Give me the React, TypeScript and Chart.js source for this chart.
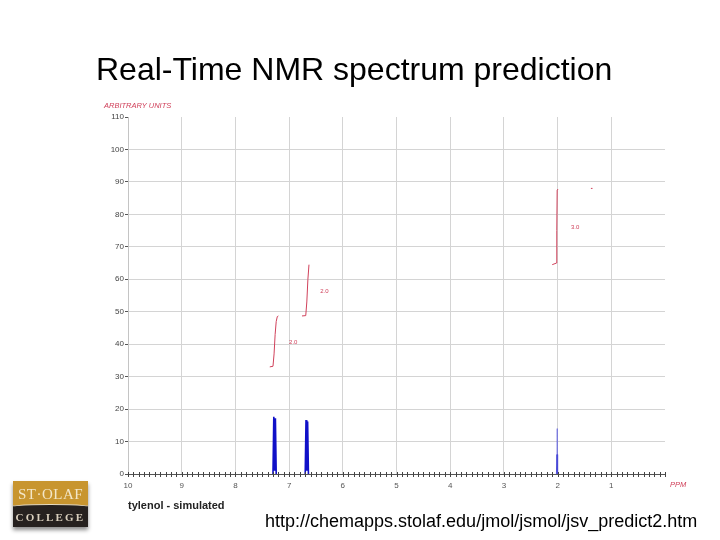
import React, { useEffect, useRef } from 'react';
import { Chart, registerables } from 'chart.js';
Chart.register(...registerables);

// ---- data ----
const xMin = 0;
const xMax = 10;
const yMin = 0;
const yMax = 110;

// simulated spectrum, aromatic doublets (ppm, intensity); null breaks the line
const spectrumPpm = [7.3, 7.285, 7.27, 7.255, 7.24, 7.0, 6.7, 6.685, 6.67, 6.655, 6.64];
const spectrumIntensity = [0, 17.6, 1, 17.2, 0, null, 0, 16.6, 1, 16.2, 0];

// methyl singlet (thin, faint in the reference)
const singletPpm = [2.02, 2.011, 2.002];
const singletIntensity = [0, 14, 0];
const singletBasePpm = [2.022, 2.011, 2.0];
const singletBaseIntensity = [0, 6, 0];

// integration curve
const integralPpm = [7.36, 7.3, 7.28, 7.26, 7.24, 7.22, 7.2, 7.0, 6.76, 6.69, 6.67, 6.65, 6.63, 6.2, 2.1, 2.02, 2.015, 2.008, 1.99, 1.7, 1.38, 1.35];
const integralValue = [33, 33.2, 37, 43, 47, 48.5, 48.7, null, 48.7, 48.8, 53, 60, 64.5, null, 64.5, 65, 75, 87.5, 87.8, null, 88, 88];

// integral annotations
const integralLabelText = ['2.0', '2.0', '3.0'];
const integralLabelPpm = [7.0, 6.42, 1.75];
const integralLabelValue = [40.5, 56.4, 76.1];

const FONT = "'Liberation Sans', Arial, sans-serif";
const RED = '#d0405a';

const isInt = (v: number) => Math.abs(v - Math.round(v)) < 1e-6;

const decorPlugin = {
  id: 'decor',
  afterDraw(chart: any) {
    const ctx = chart.ctx;
    const xs = chart.scales.x;
    const ys = chart.scales.y;
    const yAxis = ys.getPixelForValue(0);
    ctx.save();
    ctx.strokeStyle = '#444';
    ctx.lineWidth = 1;
    xs.ticks.forEach((t: any) => {
      const px = Math.round(xs.getPixelForValue(t.value)) + 0.5;
      ctx.beginPath();
      ctx.moveTo(px, yAxis - 2);
      ctx.lineTo(px, yAxis + 3);
      ctx.stroke();
    });
    ctx.fillStyle = RED;
    ctx.font = `6px ${FONT}`;
    ctx.textAlign = 'left';
    ctx.textBaseline = 'middle';
    integralLabelText.forEach((s, i) => {
      ctx.fillText(s, xs.getPixelForValue(integralLabelPpm[i]), ys.getPixelForValue(integralLabelValue[i]));
    });
    ctx.font = `italic 7.5px ${FONT}`;
    ctx.fillText('ARBITRARY UNITS', 104, ys.getPixelForValue(yMax) - 11);
    ctx.fillText('PPM', xs.getPixelForValue(xMin) + 5, yAxis + 11);
    ctx.restore();
  },
};

function Logo() {
  return (
    <div
      style={{
        position: 'absolute',
        left: 13,
        top: 481,
        width: 75,
        height: 46,
        overflow: 'hidden',
        boxShadow: '0 3px 4px rgba(0,0,0,0.45)',
        background: '#c8952f',
        fontFamily: "'Liberation Serif', 'DejaVu Serif', serif",
      }}
    >
      <div
        style={{
          position: 'absolute',
          left: 0,
          top: 5,
          width: 75,
          textAlign: 'center',
          color: '#f3e6c8',
          fontSize: 15,
          lineHeight: '16px',
          letterSpacing: 0.5,
          whiteSpace: 'nowrap',
        }}
      >
        ST·OLAF
      </div>
      <div
        style={{
          position: 'absolute',
          left: -10,
          top: 23,
          width: 95,
          height: 40,
          background: '#26211f',
          borderTop: '1.5px solid #e9dcc0',
          borderRadius: '50% 50% 0 0 / 4px 4px 0 0',
        }}
      />
      <div
        style={{
          position: 'absolute',
          left: 0,
          top: 29,
          width: 75,
          textAlign: 'center',
          color: '#d9cfbd',
          fontSize: 11,
          lineHeight: '14px',
          letterSpacing: 2.2,
          fontWeight: 'bold',
          whiteSpace: 'nowrap',
        }}
      >
        COLLEGE
      </div>
    </div>
  );
}

export default function App() {
  const canvasRef = useRef<HTMLCanvasElement>(null);

  useEffect(() => {
    const spectrum = spectrumPpm.map((x, i) => ({ x, y: spectrumIntensity[i] }));
    const singlet = singletPpm.map((x, i) => ({ x, y: singletIntensity[i] }));
    const singletBase = singletBasePpm.map((x, i) => ({ x, y: singletBaseIntensity[i] }));
    const integral = integralPpm.map((x, i) => ({ x, y: integralValue[i] }));
    const chart = new Chart(canvasRef.current as HTMLCanvasElement, {
      type: 'line',
      data: {
        datasets: [
          {
            data: integral as any,
            borderColor: RED,
            borderWidth: 1,
            pointRadius: 0,
            spanGaps: false,
            tension: 0,
          },
          {
            data: spectrum as any,
            borderColor: '#1010c8',
            borderWidth: 1.6,
            pointRadius: 0,
            spanGaps: false,
            tension: 0,
          },
          {
            data: singlet as any,
            borderColor: 'rgba(90,90,220,0.45)',
            borderWidth: 0.8,
            pointRadius: 0,
            tension: 0,
          },
          {
            data: singletBase as any,
            borderColor: 'rgba(30,30,200,0.8)',
            borderWidth: 1,
            pointRadius: 0,
            tension: 0,
          },
        ],
      },
      options: {
        animation: false,
        responsive: false,
        maintainAspectRatio: false,
        layout: { padding: { left: 88, right: 55, top: 117, bottom: 46 } },
        plugins: { legend: { display: false }, tooltip: { enabled: false } },
        scales: {
          x: {
            type: 'linear',
            reverse: true,
            min: xMin,
            max: xMax,
            afterFit: (s: any) => {
              s.height = 20;
            },
            border: { color: '#555', width: 1 },
            grid: {
              drawTicks: false,
              color: (c: any) => {
                const v = c.tick ? c.tick.value : 0;
                return isInt(v) && v > xMin && v < xMax ? '#d4d4d4' : 'rgba(0,0,0,0)';
              },
            },
            ticks: {
              stepSize: 0.1,
              maxTicksLimit: 200,
              autoSkip: false,
              maxRotation: 0,
              minRotation: 0,
              padding: 7,
              color: '#555',
              font: { family: FONT, size: 8 },
              callback: (v: any) => (isInt(v) && v > xMin ? String(Math.round(v)) : ''),
            },
          },
          y: {
            min: yMin,
            max: yMax,
            afterFit: (s: any) => {
              s.width = 40;
            },
            border: { color: '#c4c4c4', width: 1 },
            grid: {
              tickLength: 3,
              tickColor: '#555',
              color: (c: any) => {
                const v = c.tick ? c.tick.value : 0;
                return v > yMin && v < yMax ? '#d4d4d4' : 'rgba(0,0,0,0)';
              },
            },
            ticks: {
              stepSize: 10,
              padding: 1,
              color: '#444',
              font: { family: FONT, size: 8 },
            },
          },
        },
      },
      plugins: [decorPlugin],
    });
    return () => chart.destroy();
  }, []);

  return (
    <div style={{ position: 'fixed', left: 0, top: 0, width: 720, height: 540, background: '#fff', fontFamily: FONT }}>
      <canvas ref={canvasRef} width={720} height={540} style={{ position: 'absolute', left: 0, top: 0, width: 720, height: 540 }} />
      <div style={{ position: 'absolute', left: 96, top: 53, fontSize: 32, lineHeight: '32px', color: '#000', whiteSpace: 'nowrap' }}>
        Real-Time NMR spectrum prediction
      </div>
      <div style={{ position: 'absolute', left: 128, top: 500, fontSize: 11, lineHeight: '11px', fontWeight: 'bold', color: '#222', whiteSpace: 'nowrap' }}>
        tylenol - simulated
      </div>
      <div style={{ position: 'absolute', left: 265, top: 512, fontSize: 18, lineHeight: '18px', color: '#000', whiteSpace: 'nowrap' }}>
        http://chemapps.stolaf.edu/jmol/jsmol/jsv_predict2.htm
      </div>
      <Logo />
    </div>
  );
}
